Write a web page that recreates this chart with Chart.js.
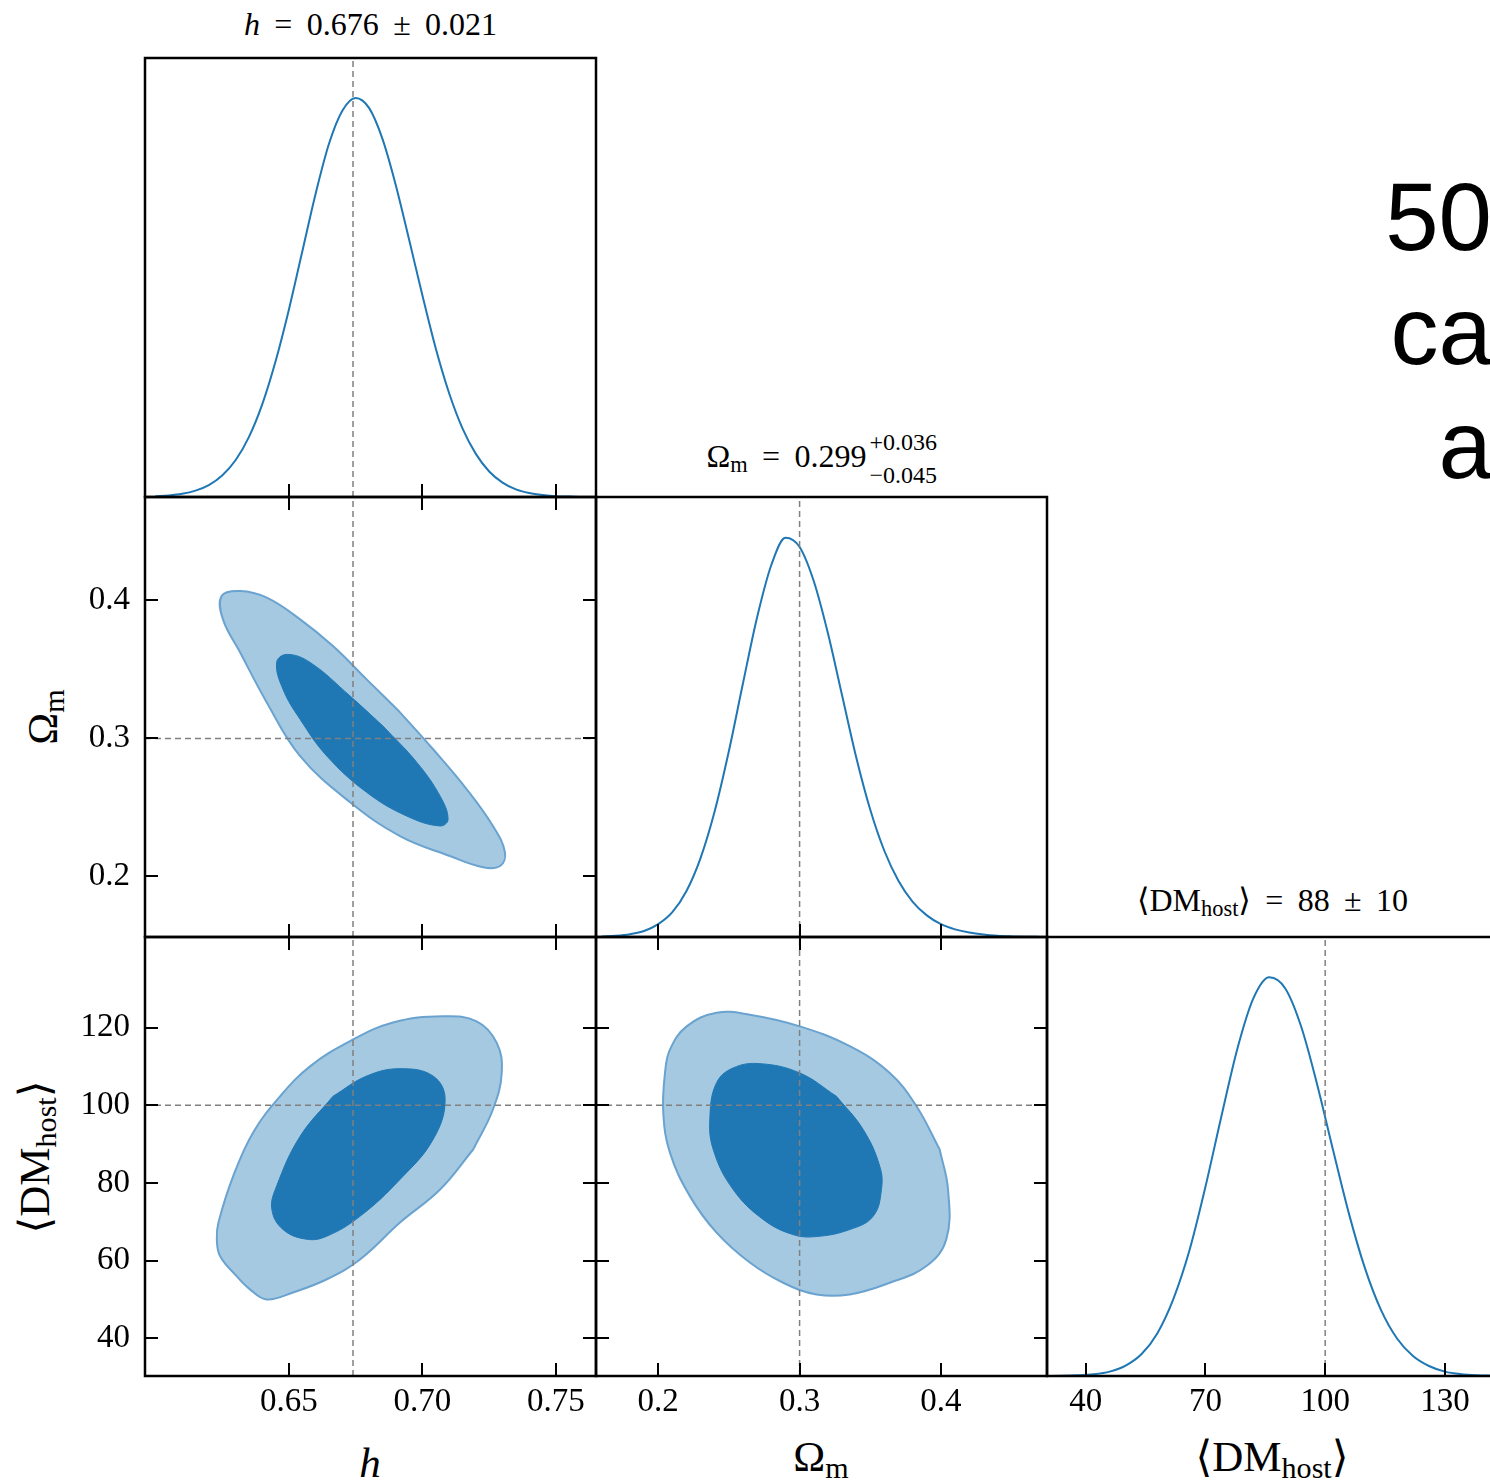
<!DOCTYPE html>
<html>
<head>
<meta charset="utf-8">
<script src="https://cdn.jsdelivr.net/npm/chart.js@4.4.1/dist/chart.umd.min.js"></script>
<style>
html, body { margin: 0; padding: 0; background: #fff; overflow: hidden; }
#fig { position: relative; width: 1490px; height: 1483px; overflow: hidden; background: #fff; }
#fig canvas { position: absolute; }
.t { position: absolute; font-family: 'Liberation Serif', 'DejaVu Serif', serif; color: #000; white-space: nowrap; text-align: center; }
.title { font-size: 32px; line-height: 30px; width: 451px; }
.axl { font-size: 43px; line-height: 40px; width: 400px; }
.rot { transform: translate(-50%, -50%) rotate(-90deg); width: auto; }
.op { margin: 0 0.45em; }
.sb { font-size: 0.7em; position: relative; top: 0.22em; }
.scr { position: relative; display: inline-block; width: 70px; height: 0; }
.scr span { position: absolute; left: 3px; font-size: 24px; line-height: 22px; }
.side { position: absolute; left: 1200px; top: 160px; width: 292px; text-align: right;
        font-family: 'Liberation Sans', Arial, sans-serif; font-size: 96px; line-height: 114px; color: #000; }
</style>
</head>
<body>
<div id="fig">
  <div class="t title" style="left:145px; top:9px;"><i>h</i><span class="op">=</span>0.676<span class="op">±</span>0.021</div>
  <div class="t title" style="left:596px; top:441px;">Ω<span class="sb">m</span><span class="op">=</span>0.299<span class="scr"><span style="top:-36px;">+0.036</span><span style="top:-3px;">−0.045</span></span></div>
  <div class="t title" style="left:1047px; top:885px;">⟨DM<span class="sb">host</span>⟩<span class="op">=</span>88<span class="op">±</span>10</div>

  <div class="t axl" style="left:170px; top:1443px;"><i>h</i></div>
  <div class="t axl" style="left:621px; top:1437px;">Ω<span class="sb">m</span></div>
  <div class="t axl" style="left:1072px; top:1437px;">⟨DM<span class="sb">host</span>⟩</div>

  <div class="t axl rot" style="left:45px; top:717px;">Ω<span class="sb">m</span></div>
  <div class="t axl rot" style="left:37px; top:1157px;">⟨DM<span class="sb">host</span>⟩</div>

  <div class="side">50<br>ca<br>a</div>
</div>
<script>
// axis limits, ticks and fiducial values
const hRange = [0.5961, 0.7650];
const omRange = [0.156, 0.475];
const dmRange = [30.3, 143.3];
const densRange = [0, 1.1];
const hTicks = [0.65, 0.70, 0.75];
const omTicks = [0.2, 0.3, 0.4];
const dmTicksX = [40, 70, 100, 130];
const dmTicksY = [40, 60, 80, 100, 120];
const hTrue = 0.674;
const omTrue = 0.30;
const dmTrue = 100;

// 1D marginals (peak normalised to 1)
const hGrid = [0.600, 0.605, 0.610, 0.615, 0.620, 0.625, 0.630, 0.635, 0.640, 0.645, 0.650, 0.655,
  0.660, 0.665, 0.670, 0.675, 0.680, 0.685, 0.690, 0.695, 0.700, 0.705, 0.710, 0.715, 0.720,
  0.725, 0.730, 0.735, 0.740, 0.745, 0.750, 0.755, 0.760, 0.765];
const hDensity = [0.002, 0.004, 0.008, 0.016, 0.030, 0.054, 0.092, 0.150, 0.232, 0.340, 0.470, 0.615,
  0.760, 0.885, 0.968, 1.000, 0.975, 0.898, 0.782, 0.645, 0.505, 0.372, 0.260, 0.172, 0.108,
  0.064, 0.036, 0.019, 0.010, 0.005, 0.002, 0.001, 0.000, 0.000];

const omGrid = [0.16, 0.17, 0.18, 0.19, 0.20, 0.21, 0.22, 0.23, 0.24, 0.25, 0.26, 0.27, 0.28, 0.29,
  0.30, 0.31, 0.32, 0.33, 0.34, 0.35, 0.36, 0.37, 0.38, 0.39, 0.40, 0.41, 0.42, 0.43, 0.44, 0.45, 0.46, 0.47];
const omDensity = [0.001, 0.003, 0.007, 0.015, 0.032, 0.062, 0.115, 0.198, 0.315, 0.465, 0.635, 0.800, 0.930, 0.998,
  0.975, 0.890, 0.760, 0.605, 0.450, 0.318, 0.215, 0.140, 0.088, 0.054, 0.032, 0.019, 0.011, 0.006, 0.003, 0.0015, 0.0006, 0.0002];

const dmGrid = [30, 34, 38, 42, 46, 50, 54, 58, 62, 66, 70, 74, 78, 82, 86, 90, 94, 98, 102, 106, 110,
  114, 118, 122, 126, 130, 134, 138, 142];
const dmDensity = [0.0002, 0.0005, 0.0016, 0.0043, 0.011, 0.026, 0.055, 0.108, 0.194, 0.315, 0.474, 0.651,
  0.820, 0.946, 0.999, 0.971, 0.875, 0.730, 0.565, 0.405, 0.269, 0.165, 0.094, 0.050, 0.025, 0.011, 0.0046, 0.0018, 0.0006];

// 2D contours (68% inner, 95% outer); each list starts and ends on a straight stretch
const hOmOuter = [[0.6916, 0.3189], [0.7040, 0.2921], [0.7166, 0.2631], [0.7264, 0.2365], [0.7309, 0.2174],
  [0.7291, 0.2075], [0.7227, 0.2066], [0.7103, 0.2147], [0.6916, 0.2292], [0.6729, 0.2537], [0.6542, 0.2872],
  [0.6417, 0.3261], [0.6317, 0.3624], [0.6253, 0.3863], [0.6248, 0.4032], [0.6317, 0.4068], [0.6417, 0.4020],
  [0.6542, 0.3863], [0.6665, 0.3669], [0.6791, 0.3428], [0.6916, 0.3189]];
const hOmInner = [[0.6852, 0.3090], [0.6979, 0.2826], [0.7066, 0.2582], [0.7096, 0.2413], [0.7066, 0.2365],
  [0.6941, 0.2437], [0.6791, 0.2609], [0.6642, 0.2872], [0.6542, 0.3138], [0.6478, 0.3355], [0.6454, 0.3551],
  [0.6492, 0.3609], [0.6579, 0.3551], [0.6729, 0.3307], [0.6852, 0.3090]];

const hDmOuter = [[0.7190, 88.6], [0.7066, 78.3], [0.6916, 69.8], [0.6766, 60.3], [0.6642, 55.2], [0.6515, 51.8],
  [0.6417, 50.0], [0.6354, 52.6], [0.6304, 56.0], [0.6242, 61.2], [0.6230, 65.5], [0.6236, 69.8],
  [0.6291, 81.7], [0.6366, 93.0], [0.6467, 102.3], [0.6579, 110.0], [0.6729, 116.5], [0.6890, 121.3],
  [0.7077, 122.9], [0.7203, 121.6], [0.7278, 116.1], [0.7297, 108.4], [0.7264, 98.9], [0.7190, 88.6]];
const hDmInner = [[0.6665, 102.3], [0.6791, 107.5], [0.6916, 109.4], [0.7040, 107.5], [0.7085, 101.5],
  [0.7040, 91.2], [0.6916, 80.9], [0.6766, 71.4], [0.6642, 66.3], [0.6567, 65.5], [0.6478, 68.0],
  [0.6436, 73.2], [0.6454, 79.2], [0.6542, 92.0], [0.6665, 102.3]];

const omDmOuter = [[0.3991, 88.6], [0.4050, 78.3], [0.4038, 65.5], [0.3897, 58.6], [0.3638, 54.3], [0.3355, 51.3],
  [0.3120, 51.3], [0.2884, 54.3], [0.2648, 59.5], [0.2413, 67.2], [0.2224, 76.6], [0.2083, 87.8],
  [0.2036, 98.0], [0.2048, 108.3], [0.2083, 114.3], [0.2201, 120.3], [0.2413, 123.8], [0.2648, 123.3],
  [0.3002, 120.3], [0.3355, 115.2], [0.3638, 108.3], [0.3826, 99.8], [0.3991, 88.6]];
const omDmInner = [[0.3261, 102.3], [0.3449, 93.8], [0.3567, 84.3], [0.3579, 78.3], [0.3520, 71.4], [0.3355, 68.0],
  [0.3120, 66.2], [0.2954, 66.7], [0.2742, 70.6], [0.2530, 78.3], [0.2389, 88.6], [0.2366, 97.2],
  [0.2413, 105.8], [0.2530, 109.6], [0.2719, 110.7], [0.3002, 108.3], [0.3261, 102.3]];

const blue = '#1f77b4';
const lightBlue = '#a5c9e1';
const edgeBlue = '#6aa3cf';
const tickFont = { family: "'Liberation Serif', 'DejaVu Serif', serif", size: 33 };

const fmtH = v => v.toFixed(2);
const fmtOm = v => v.toFixed(1);
const fmtDm = v => String(v);

// panel grid in page pixels
const colX = [145, 596, 1047];
const rowY = [58, 497, 937, 1376];
const panelW = 451;

const frame = {
  id: 'frame',
  afterDatasetsDraw(chart, args, o) {
    const {ctx, chartArea: a} = chart;
    const sx = chart.scales.x, sy = chart.scales.y;
    ctx.save();
    ctx.strokeStyle = '#000';
    ctx.lineWidth = 2;
    ctx.beginPath();
    (o.xTicks || []).forEach(v => {
      const px = Math.round(sx.getPixelForValue(v));
      ctx.moveTo(px, a.bottom); ctx.lineTo(px, a.bottom - o.len);
      if (o.box) { ctx.moveTo(px, a.top); ctx.lineTo(px, a.top + o.len); }
    });
    (o.yTicks || []).forEach(v => {
      const py = Math.round(sy.getPixelForValue(v));
      ctx.moveTo(a.left, py); ctx.lineTo(a.left + o.len, py);
      ctx.moveTo(a.right, py); ctx.lineTo(a.right - o.len, py);
    });
    ctx.stroke();
    ctx.lineWidth = 2.5;
    ctx.strokeRect(a.left, a.top, a.right - a.left, a.bottom - a.top);
    ctx.restore();
  }
};

const pts = (xs, ys) => xs.map((x, i) => ({x: x, y: ys[i]}));
const poly = arr => arr.map(p => ({x: p[0], y: p[1]}));

function dashed(data) {
  return { data: data, borderColor: '#808080', borderWidth: 1.5, borderDash: [6, 4], pointRadius: 0, fill: false };
}

const panels = [
  { col: 0, row: 0, kind: '1d', xs: hGrid, ys: hDensity, xr: hRange, xTicks: hTicks, truth: hTrue, xLab: false, xFmt: fmtH },
  { col: 0, row: 1, kind: '2d', xr: hRange, yr: omRange, outer: hOmOuter, inner: hOmInner, xTicks: hTicks, yTicks: omTicks,
    tx: hTrue, ty: omTrue, xLab: false, yLab: true, xFmt: fmtH, yFmt: fmtOm },
  { col: 1, row: 1, kind: '1d', xs: omGrid, ys: omDensity, xr: omRange, xTicks: omTicks, truth: omTrue, xLab: false, xFmt: fmtOm },
  { col: 0, row: 2, kind: '2d', xr: hRange, yr: dmRange, outer: hDmOuter, inner: hDmInner, xTicks: hTicks, yTicks: dmTicksY,
    tx: hTrue, ty: dmTrue, xLab: true, yLab: true, xFmt: fmtH, yFmt: fmtDm },
  { col: 1, row: 2, kind: '2d', xr: omRange, yr: dmRange, outer: omDmOuter, inner: omDmInner, xTicks: omTicks, yTicks: dmTicksY,
    tx: omTrue, ty: dmTrue, xLab: true, yLab: false, xFmt: fmtOm, yFmt: fmtDm },
  { col: 2, row: 2, kind: '1d', xs: dmGrid, ys: dmDensity, xr: dmRange, xTicks: dmTicksX, truth: dmTrue, xLab: true, xFmt: fmtDm }
];

const fig = document.getElementById('fig');

function makeChart(p) {
  const x0 = colX[p.col], x1 = x0 + panelW;
  const y0 = rowY[p.row], y1 = rowY[p.row + 1];
  const ML = 120, MT = 40, MR = 40, MB = 80;
  const w = x1 - x0 + ML + MR, h = y1 - y0 + MT + MB;
  const cv = document.createElement('canvas');
  cv.width = w; cv.height = h;
  cv.style.left = (x0 - ML) + 'px';
  cv.style.top = (y0 - MT) + 'px';
  cv.style.width = w + 'px';
  cv.style.height = h + 'px';
  fig.appendChild(cv);

  const yr = p.kind === '1d' ? densRange : p.yr;
  let datasets;
  if (p.kind === '1d') {
    datasets = [
      dashed([{x: p.truth, y: yr[0]}, {x: p.truth, y: yr[1]}]),
      { data: pts(p.xs, p.ys), borderColor: blue, borderWidth: 2, pointRadius: 0,
        cubicInterpolationMode: 'monotone', fill: false }
    ];
  } else {
    datasets = [
      dashed([{x: p.tx, y: yr[0]}, {x: p.tx, y: yr[1]}]),
      dashed([{x: p.xr[0], y: p.ty}, {x: p.xr[1], y: p.ty}]),
      { data: poly(p.inner), borderColor: blue, borderWidth: 1, backgroundColor: blue,
        fill: 'shape', tension: 0.4, pointRadius: 0 },
      { data: poly(p.outer), borderColor: edgeBlue, borderWidth: 2, backgroundColor: lightBlue,
        fill: 'shape', tension: 0.4, pointRadius: 0 }
    ];
  }

  new Chart(cv, {
    type: 'line',
    data: { datasets: datasets },
    options: {
      responsive: false,
      animation: false,
      devicePixelRatio: 1,
      events: [],
      layout: { padding: { left: ML - (p.yLab ? 100 : 0), top: MT, right: MR, bottom: MB - (p.xLab ? 60 : 0) } },
      plugins: {
        legend: { display: false },
        tooltip: { enabled: false },
        frame: { xTicks: p.xTicks, yTicks: p.kind === '2d' ? p.yTicks : null, box: p.kind === '2d', len: 13 }
      },
      scales: {
        x: {
          type: 'linear', min: p.xr[0], max: p.xr[1], display: !!p.xLab,
          afterFit: s => { s.height = p.xLab ? 60 : 0; },
          afterBuildTicks: s => { s.ticks = p.xTicks.map(v => ({value: v})); },
          ticks: { font: tickFont, color: '#000', padding: 7, maxRotation: 0, autoSkip: false, callback: v => p.xFmt(v) },
          grid: { display: false, drawTicks: false },
          border: { display: false }
        },
        y: {
          type: 'linear', min: yr[0], max: yr[1], display: !!p.yLab,
          afterFit: s => { s.width = p.yLab ? 100 : 0; },
          afterBuildTicks: s => { if (p.yTicks) s.ticks = p.yTicks.map(v => ({value: v})); },
          ticks: { font: tickFont, color: '#000', padding: 15, autoSkip: false, callback: v => p.yFmt ? p.yFmt(v) : v },
          grid: { display: false, drawTicks: false },
          border: { display: false }
        }
      }
    },
    plugins: [frame]
  });
}

panels.forEach(makeChart);
</script>
</body>
</html>
